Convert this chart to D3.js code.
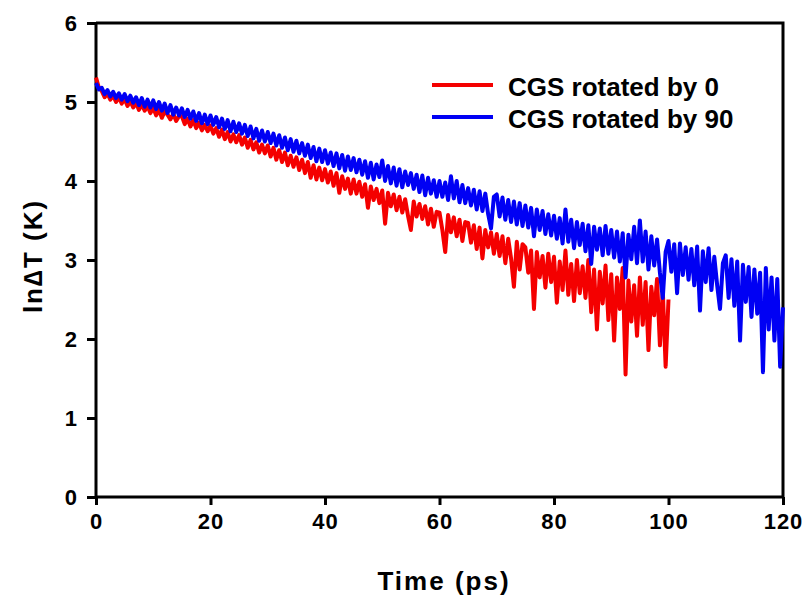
<!DOCTYPE html>
<html>
<head>
<meta charset="utf-8">
<script src="https://cdn.jsdelivr.net/npm/d3@7"></script>
<style>
	body { margin: 0; background: #fff; }
	text { font-family: Arial, "Liberation Sans", sans-serif; font-weight: bold; fill: #000; }
</style>
</head>
<body>
<div id="chart"></div>
<script>
///////////////////////////////////////////////////////////////////////////
///////////////////////////////// Data ////////////////////////////////////
///////////////////////////////////////////////////////////////////////////

var xTicks = [0, 20, 40, 60, 80, 100, 120];
var yTicks = [0, 1, 2, 3, 4, 5, 6];
var seriesNames = ["CGS rotated by 0", "CGS rotated by 90"];
var seriesColors = ["#f40000", "#0000f4"];
var timeStep = 0.5; //ps between samples

//ln dT, CGS rotated by 0 (0 - 100 ps)
var rot0 = [
	5.31, 5.18, 5.14, 5.06, 5.11, 5.03, 5.08, 5.00, 5.06, 4.98,
	5.04, 4.95, 5.01, 4.93, 4.99, 4.90, 4.97, 4.89, 4.95, 4.86,
	4.93, 4.83, 4.90, 4.80, 4.88, 4.84, 4.78, 4.85, 4.76, 4.82,
	4.82, 4.72, 4.79, 4.69, 4.77, 4.67, 4.74, 4.64, 4.71, 4.63,
	4.70, 4.60, 4.67, 4.56, 4.65, 4.53, 4.62, 4.50, 4.59, 4.49,
	4.58, 4.46, 4.55, 4.42, 4.52, 4.40, 4.49, 4.36, 4.46, 4.35,
	4.45, 4.31, 4.42, 4.27, 4.39, 4.24, 4.36, 4.20, 4.32, 4.18,
	4.30, 4.14, 4.27, 4.10, 4.24, 4.04, 4.20, 4.02, 4.17, 4.01,
	4.15, 3.98, 4.12, 3.94, 4.10, 3.85, 4.06, 3.90, 4.03, 3.84,
	4.02, 3.84, 3.99, 3.80, 3.96, 3.66, 3.93, 3.76, 3.90, 3.72,
	3.88, 3.46, 3.85, 3.68, 3.83, 3.63, 3.80, 3.60, 3.77, 3.56,
	3.38, 3.74, 3.55, 3.71, 3.52, 3.68, 3.45, 3.65, 3.42, 3.61,
	3.60, 3.38, 3.10, 3.57, 3.35, 3.54, 3.30, 3.51, 3.24, 3.48,
	3.47, 3.22, 3.44, 3.14, 3.41, 3.02, 3.38, 3.16, 3.35, 3.08,
	3.33, 3.05, 3.30, 2.96, 3.27, 3.02, 2.66, 3.23, 2.88, 3.20,
	3.16, 2.84, 3.12, 2.38, 3.10, 2.78, 3.05, 2.65, 3.08, 2.72,
	3.04, 2.46, 2.98, 2.62, 3.12, 2.56, 2.95, 2.48, 3.00, 2.58,
	2.92, 2.52, 3.00, 2.34, 2.88, 2.12, 2.85, 2.45, 2.93, 2.24,
	2.82, 1.98, 2.78, 2.38, 2.90, 1.55, 2.74, 2.22, 2.68, 2.04,
	2.78, 2.18, 2.72, 1.86, 2.66, 2.30, 2.76, 1.92, 2.62, 1.65,
	2.50
];

//ln dT, CGS rotated by 90 (0 - 120 ps)
var rot90 = [
	5.24, 5.16, 5.18, 5.10, 5.15, 5.07, 5.13, 5.05, 5.11, 5.03,
	5.10, 5.01, 5.08, 4.99, 5.06, 4.96, 5.05, 4.94, 5.03, 4.93,
	5.02, 4.91, 5.00, 4.89, 4.98, 4.86, 4.96, 4.84, 4.93, 4.83,
	4.92, 4.81, 4.90, 4.79, 4.88, 4.76, 4.86, 4.73, 4.84, 4.72,
	4.83, 4.71, 4.81, 4.68, 4.79, 4.66, 4.77, 4.63, 4.75, 4.62,
	4.73, 4.60, 4.71, 4.57, 4.69, 4.54, 4.66, 4.51, 4.64, 4.50,
	4.62, 4.48, 4.60, 4.45, 4.58, 4.42, 4.55, 4.39, 4.53, 4.37,
	4.51, 4.35, 4.48, 4.32, 4.46, 4.29, 4.43, 4.25, 4.41, 4.24,
	4.39, 4.22, 4.36, 4.19, 4.35, 4.16, 4.33, 4.13, 4.31, 4.14,
	4.29, 4.11, 4.27, 4.08, 4.25, 4.04, 4.23, 4.02, 4.21, 4.05,
	4.26, 4.00, 4.19, 3.97, 4.17, 3.94, 4.15, 3.92, 4.12, 3.95,
	4.10, 3.90, 4.08, 3.86, 4.07, 3.82, 4.04, 3.84, 4.01, 3.80,
	4.00, 3.80, 3.98, 3.76, 4.06, 3.78, 4.00, 3.73, 3.95, 3.72,
	3.91, 3.69, 3.89, 3.64, 3.87, 3.62, 3.84, 3.58, 3.40, 3.80,
	3.83, 3.55, 3.79, 3.51, 3.76, 3.48, 3.74, 3.45, 3.72, 3.43,
	3.69, 3.41, 3.66, 3.30, 3.64, 3.38, 3.62, 3.33, 3.58, 3.31,
	3.56, 3.27, 3.53, 3.21, 3.64, 3.23, 3.51, 3.15, 3.48, 3.19,
	3.46, 3.11, 3.44, 2.95, 3.42, 3.13, 3.40, 3.06, 3.43, 3.08,
	3.38, 3.03, 3.36, 2.98, 3.34, 2.78, 3.32, 3.01, 3.42, 2.96,
	3.50, 2.98, 3.36, 2.88, 3.30, 2.93, 3.26, 2.84, 2.52, 3.10,
	3.24, 2.85, 3.20, 2.58, 3.21, 2.81, 3.16, 2.75, 3.14, 2.68,
	3.17, 2.36, 3.11, 2.72, 3.15, 2.62, 3.04, 2.68, 2.38, 2.96,
	3.06, 2.52, 3.01, 2.42, 2.98, 1.98, 2.94, 2.47, 2.91, 2.28,
	2.88, 2.32, 2.84, 1.58, 2.90, 2.12, 2.78, 1.98, 2.76, 1.65,
	2.40
];

///////////////////////////////////////////////////////////////////////////
//////////////////// Set up and initiate svg containers ///////////////////
///////////////////////////////////////////////////////////////////////////

var margin = { top: 23, right: 25, bottom: 102, left: 96 };
var width = 808 - margin.left - margin.right;
var height = 599 - margin.top - margin.bottom;

var svgRoot = d3.select("#chart")
	.append("svg")
	.attr("width", 808)
	.attr("height", 599);

var svg = svgRoot.append("g")
	.attr("transform", "translate(" + margin.left + "," + margin.top + ")");

var x = d3.scaleLinear().domain([0, 120]).range([0, width]);
var y = d3.scaleLinear().domain([0, 6]).range([height, 0]);

///////////////////////////////////////////////////////////////////////////
///////////////////////////////// Axes ////////////////////////////////////
///////////////////////////////////////////////////////////////////////////

//Frame on top and right
svg.append("path")
	.attr("d", "M0,0H" + width + "V" + height)
	.style("fill", "none")
	.style("stroke", "#000")
	.style("stroke-width", 3);

var xAxis = svg.append("g")
	.attr("transform", "translate(0," + height + ")")
	.call(d3.axisBottom(x).tickValues(xTicks).tickFormat(d3.format("d")).tickSize(8).tickPadding(8));

var yAxis = svg.append("g")
	.call(d3.axisLeft(y).tickValues(yTicks).tickFormat(d3.format("d")).tickSize(9).tickPadding(10));

[xAxis, yAxis].forEach(function(a) {
	a.select(".domain").style("stroke", "#000").style("stroke-width", 3);
	a.selectAll(".tick line").style("stroke", "#000").style("stroke-width", 3);
	a.selectAll(".tick text")
		.style("font-size", "22px")
		.style("font-family", "Arial, 'Liberation Sans', sans-serif")
		.style("font-weight", "bold")
		.style("fill", "#000");
});
xAxis.select(".domain").attr("d", "M0,0H" + width);
yAxis.select(".domain").attr("d", "M0,0V" + height);
xAxis.selectAll(".tick text").style("letter-spacing", "1px");

//Axis titles
svg.append("text")
	.attr("x", 444 - margin.left)
	.attr("y", 590 - margin.top)
	.style("text-anchor", "middle")
	.style("font-size", "26px")
	.style("letter-spacing", "2px")
	.text("Time (ps)");

svg.append("text")
	.attr("transform", "translate(" + (42 - margin.left) + "," + (256 - margin.top) + ")rotate(-90)")
	.style("text-anchor", "middle")
	.style("font-size", "26px")
	.style("letter-spacing", "2px")
	.text("ln\u2206T (K)");

///////////////////////////////////////////////////////////////////////////
///////////////////////////////// Lines ///////////////////////////////////
///////////////////////////////////////////////////////////////////////////

var line = d3.line()
	.x(function(d, i) { return x(i * timeStep); })
	.y(function(d) { return y(d); });

[rot0, rot90].forEach(function(s, i) {
	svg.append("path")
		.datum(s)
		.attr("d", line)
		.style("fill", "none")
		.style("stroke", seriesColors[i])
		.style("stroke-width", 4)
		.style("stroke-linejoin", "round");
});

///////////////////////////////////////////////////////////////////////////
//////////////////////////////// Legend ///////////////////////////////////
///////////////////////////////////////////////////////////////////////////

var legend = svg.selectAll(".legend")
	.data(seriesNames)
	.enter().append("g")
	.attr("class", "legend")
	.attr("transform", function(d, i) { return "translate(" + (432 - margin.left) + "," + (85 - margin.top + i * 32) + ")"; });

legend.append("line")
	.attr("x1", 0).attr("x2", 61)
	.style("stroke", function(d, i) { return seriesColors[i]; })
	.style("stroke-width", 4);

legend.append("text")
	.attr("x", 76)
	.attr("y", 11)
	.style("font-size", "26px")
	.text(function(d) { return d; });
</script>
</body>
</html>
